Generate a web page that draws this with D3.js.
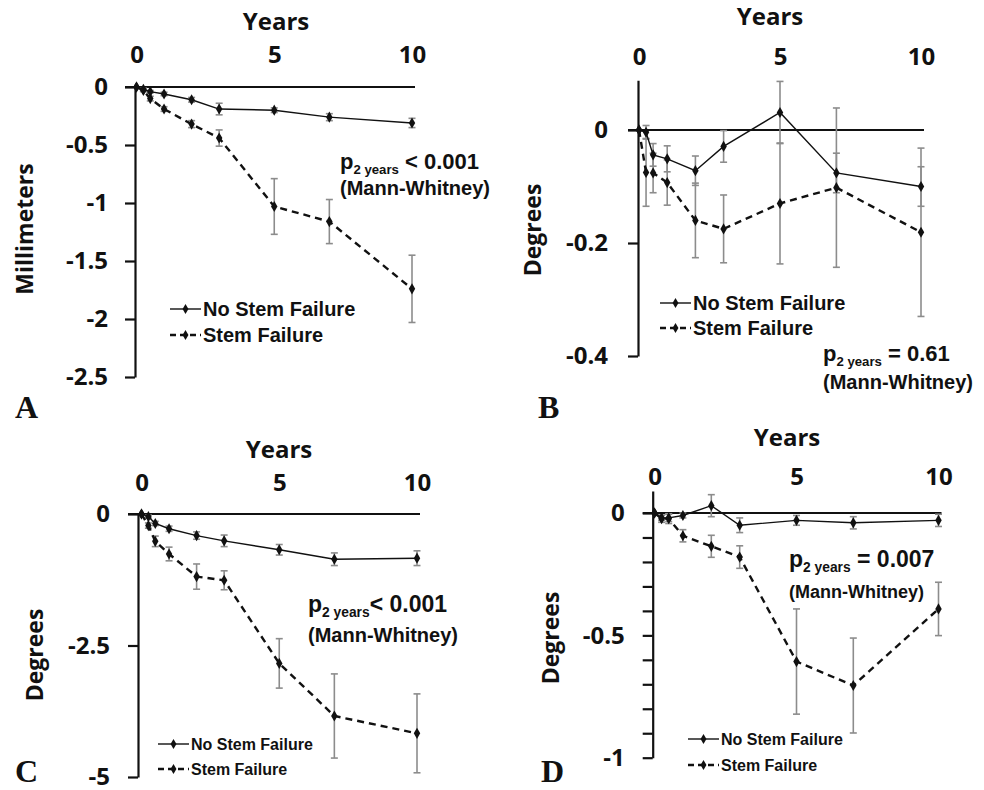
<!DOCTYPE html>
<html>
<head>
<meta charset="utf-8">
<script src="https://cdn.jsdelivr.net/npm/d3@7"></script>
<style>
  body { margin: 0; background: #fff; }
  svg { display: block; }
</style>
</head>
<body>
<div id="chart"></div>
<script>
// follow-up times (years)
var years = [0, 0.25, 0.5, 1, 2, 3, 5, 7, 10];
var seriesNames = ["No Stem Failure", "Stem Failure"];

// A - millimeters
var aNoFail    = [0, -0.02, -0.04, -0.06, -0.11, -0.19, -0.20, -0.26, -0.31];
var aNoFailErr = [0, 0.01, 0.01, 0.015, 0.02, 0.05, 0.02, 0.03, 0.04];
var aFail      = [0, -0.03, -0.10, -0.19, -0.32, -0.44, -1.03, -1.16, -1.74];
var aFailErr   = [0, 0.01, 0.02, 0.02, 0.03, 0.07, 0.24, 0.19, 0.29];
var aTicks     = [0, -0.5, -1, -1.5, -2, -2.5];

// B - degrees
var bNoFail    = [0, -0.004, -0.044, -0.051, -0.072, -0.029, 0.031, -0.076, -0.10];
var bNoFailErr = [0, 0.012, 0.02, 0.023, 0.026, 0.028, 0.055, 0.035, 0.035];
var bFail      = [0, -0.075, -0.076, -0.093, -0.16, -0.175, -0.13, -0.102, -0.181];
var bFailErr   = [0, 0.06, 0.035, 0.04, 0.066, 0.06, 0.107, 0.141, 0.149];
var bTicks     = [0, -0.2, -0.4];

// C - degrees
var cNoFail    = [0, -0.05, -0.18, -0.28, -0.41, -0.51, -0.68, -0.86, -0.84];
var cNoFailErr = [0, 0.03, 0.04, 0.05, 0.07, 0.11, 0.10, 0.12, 0.14];
var cFail      = [0, -0.22, -0.52, -0.76, -1.19, -1.26, -2.84, -3.84, -4.17];
var cFailErr   = [0, 0.05, 0.10, 0.13, 0.24, 0.18, 0.47, 0.80, 0.75];
var cTicks     = [0, -2.5, -5];

// D - degrees
var dNoFail    = [0, -0.02, -0.02, -0.01, 0.03, -0.05, -0.03, -0.04, -0.03];
var dNoFailErr = [0, 0.01, 0.015, 0.01, 0.045, 0.03, 0.02, 0.025, 0.025];
var dFail      = [0, -0.023, -0.023, -0.093, -0.136, -0.18, -0.607, -0.705, -0.392];
var dFailErr   = [0, 0.015, 0.02, 0.025, 0.045, 0.046, 0.215, 0.194, 0.109];
var dTicks     = [0, -0.1, -0.2, -0.3, -0.4, -0.5, -0.6, -0.7, -0.8, -0.9, -1];
var dLabels    = [0, -0.5, -1];

var xTicks = [0, 5, 10];

var svg = d3.select("#chart").append("svg")
    .attr("width", 984)
    .attr("height", 790);

var calibri = "'Open Sans', Lato, sans-serif";
var arial = "'Liberation Sans', Arial, sans-serif";

function fmt(v) { return v === 0 ? "0" : String(+v.toFixed(2)); }

var drawPanel = function(p) {
    var g = svg.append("g");
    var x = d3.scaleLinear().domain([0, 10]).range([p.x0, p.x10]);
    var y = d3.scaleLinear().domain(p.yDomain).range([p.yBottom, p.yTop]);

    // x labels on top
    var xa = g.append("g")
	.attr("transform", "translate(0," + p.xLabelY + ")")
	.call(d3.axisTop(x).tickValues(xTicks).tickSize(0).tickPadding(0));
    xa.select(".domain").remove();
    xa.selectAll("text")
	.attr("font-family", calibri).attr("font-weight", "bold")
	.attr("font-size", p.tickFont).attr("fill", "#111")
	.attr("dy", "0.35em");

    g.append("text")
	.attr("x", p.titleX).attr("y", p.titleY)
	.attr("text-anchor", "middle")
	.attr("font-family", calibri).attr("font-weight", "bold")
	.attr("font-size", 24).attr("fill", "#111")
	.text("Years");

    // y axis
    var ya = g.append("g")
	.attr("transform", "translate(" + p.axisX + ",0)")
	.call(d3.axisLeft(y).tickValues(p.ticks).tickSize(10).tickSizeOuter(0)
	      .tickPadding(p.tickPad)
	      .tickFormat(function(d) {
		  if (p.labels && p.labels.indexOf(d) < 0) return "";
		  return fmt(d);
	      }));
    ya.select(".domain").attr("stroke", "#111").attr("stroke-width", 2.2);
    ya.selectAll(".tick line").attr("stroke", "#111").attr("stroke-width", 2.2);
    ya.selectAll("text")
	.attr("font-family", calibri).attr("font-weight", "bold")
	.attr("font-size", p.tickFont).attr("fill", "#111");

    g.append("text")
	.attr("transform", "translate(" + p.yTitleX + "," + p.yTitleY + ") rotate(-90)")
	.attr("text-anchor", "middle")
	.attr("font-family", calibri).attr("font-weight", "bold")
	.attr("font-size", 23).attr("fill", "#111")
	.text(p.yTitle);

    // zero line
    g.append("line")
	.attr("x1", p.axisX - 10).attr("x2", x(10) + 3)
	.attr("y1", y(0)).attr("y2", y(0))
	.attr("stroke", "#111").attr("stroke-width", 1.8);

    var series = [
	{vals: p.noFail, err: p.noFailErr, dash: null, w: 1.4},
	{vals: p.fail, err: p.failErr, dash: "7,5", w: 2.4}
    ];

    // error bars
    series.forEach(function(s) {
	years.forEach(function(t, i) {
	    if (!s.err[i]) return;
	    var cx = x(t), y1 = y(s.vals[i] + s.err[i]), y2 = y(s.vals[i] - s.err[i]);
	    g.append("line").attr("x1", cx).attr("x2", cx).attr("y1", y1).attr("y2", y2)
		.attr("stroke", "#8c8c8c").attr("stroke-width", 1.6);
	    [y1, y2].forEach(function(yy) {
		g.append("line").attr("x1", cx - 3.5).attr("x2", cx + 3.5).attr("y1", yy).attr("y2", yy)
		    .attr("stroke", "#8c8c8c").attr("stroke-width", 1.6);
	    });
	});
    });

    var line = d3.line()
	.x(function(d, i) { return x(years[i]); })
	.y(function(d) { return y(d); });

    series.forEach(function(s) {
	g.append("path").datum(s.vals)
	    .attr("d", line)
	    .attr("fill", "none").attr("stroke", "#111")
	    .attr("stroke-width", s.w)
	    .attr("stroke-dasharray", s.dash);
	g.selectAll(null).data(s.vals).enter().append("path")
	    .attr("d", d3.symbol().type(d3.symbolDiamond).size(36))
	    .attr("transform", function(d, i) { return "translate(" + x(years[i]) + "," + y(d) + ")"; })
	    .attr("fill", "#111");
    });

    // legend
    series.forEach(function(s, i) {
	var ly = p.legY + i * p.legGap;
	g.append("line")
	    .attr("x1", p.legX).attr("x2", p.legX + 31)
	    .attr("y1", ly).attr("y2", ly)
	    .attr("stroke", "#111").attr("stroke-width", s.w)
	    .attr("stroke-dasharray", s.dash ? "6,4" : null);
	g.append("path")
	    .attr("d", d3.symbol().type(d3.symbolDiamond).size(30))
	    .attr("transform", "translate(" + (p.legX + 15.5) + "," + ly + ")")
	    .attr("fill", "#111");
	g.append("text")
	    .attr("x", p.legX + 33).attr("y", ly)
	    .attr("dy", "0.35em")
	    .attr("font-family", arial).attr("font-weight", "bold")
	    .attr("font-size", p.legFont).attr("fill", "#111")
	    .text(seriesNames[i]);
    });

    // p value note
    var pt = g.append("text")
	.attr("x", p.pX).attr("y", p.pY)
	.attr("font-family", arial).attr("font-weight", "bold")
	.attr("font-size", p.pFont).attr("fill", "#111");
    pt.append("tspan").text("p");
    pt.append("tspan").attr("dy", 5).attr("font-size", p.pFont * 0.6).text("2 years");
    pt.append("tspan").attr("dy", -5).text(p.pText);
    g.append("text")
	.attr("x", p.pX).attr("y", p.mwY)
	.attr("font-family", arial).attr("font-weight", "bold")
	.attr("font-size", p.mwFont).attr("fill", "#111")
	.text("(Mann-Whitney)");

    g.append("text")
	.attr("x", p.letterX).attr("y", p.letterY)
	.attr("font-family", "'Liberation Serif', 'Times New Roman', serif")
	.attr("font-weight", "bold").attr("font-size", 32).attr("fill", "#111")
	.text(p.letter);
}

drawPanel({
    letter: "A", letterX: 15, letterY: 418,
    noFail: aNoFail, noFailErr: aNoFailErr, fail: aFail, failErr: aFailErr,
    ticks: aTicks, yDomain: [-2.5, 0], yBottom: 377, yTop: 87,
    x0: 136.5, x10: 412, axisX: 135,
    xLabelY: 55, titleX: 276, titleY: 30, tickFont: 24, tickPad: 17,
    yTitle: "Millimeters", yTitleX: 33, yTitleY: 229,
    legX: 170, legY: 309, legGap: 26, legFont: 20,
    pX: 340, pY: 169, pFont: 22, pText: " < 0.001", mwY: 195, mwFont: 20
});

drawPanel({
    letter: "B", letterX: 538, letterY: 418,
    noFail: bNoFail, noFailErr: bNoFailErr, fail: bFail, failErr: bFailErr,
    ticks: bTicks, yDomain: [-0.4, 0.088], yBottom: 356, yTop: 80.3,
    x0: 639, x10: 921, axisX: 638,
    xLabelY: 57, titleX: 770, titleY: 25, tickFont: 24, tickPad: 20,
    yTitle: "Degrees", yTitleX: 541, yTitleY: 230,
    legX: 660, legY: 303, legGap: 25, legFont: 20,
    pX: 823, pY: 361, pFont: 22, pText: " = 0.61", mwY: 389, mwFont: 20
});

drawPanel({
    letter: "C", letterX: 15, letterY: 782,
    noFail: cNoFail, noFailErr: cNoFailErr, fail: cFail, failErr: cFailErr,
    ticks: cTicks, yDomain: [-5, 0], yBottom: 777, yTop: 514,
    x0: 141.5, x10: 417, axisX: 138,
    xLabelY: 483, titleX: 279, titleY: 458, tickFont: 24, tickPad: 18,
    yTitle: "Degrees", yTitleX: 43, yTitleY: 655,
    legX: 158, legY: 744, legGap: 25, legFont: 16,
    pX: 308, pY: 612, pFont: 23, pText: "< 0.001", mwY: 642, mwFont: 20
});

drawPanel({
    letter: "D", letterX: 541, letterY: 782,
    noFail: dNoFail, noFailErr: dNoFailErr, fail: dFail, failErr: dFailErr,
    ticks: dTicks, labels: dLabels, yDomain: [-1, 0.09], yBottom: 757.7, yTop: 491,
    x0: 654.5, x10: 938.5, axisX: 652.7,
    xLabelY: 477, titleX: 787, titleY: 446, tickFont: 24, tickPad: 18,
    yTitle: "Degrees", yTitleX: 559, yTitleY: 638,
    legX: 688, legY: 739, legGap: 26, legFont: 16,
    pX: 789, pY: 567, pFont: 23, pText: " = 0.007", mwY: 598, mwFont: 18
});
</script>
</body>
</html>
